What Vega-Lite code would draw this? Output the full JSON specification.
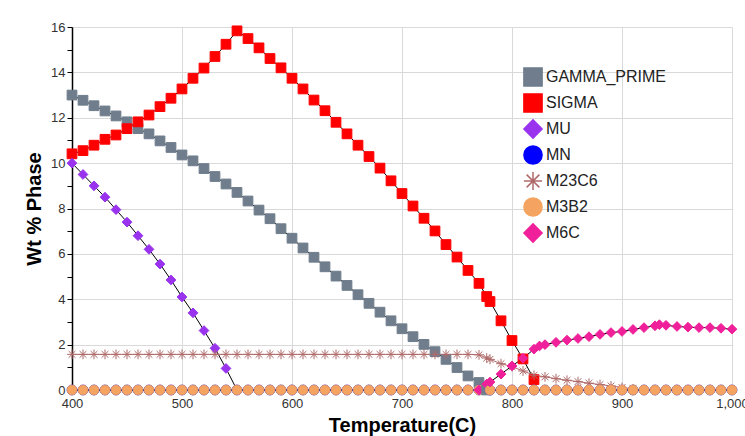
{
  "$schema": "https://vega.github.io/schema/vega-lite/v6.json",
  "width": 660,
  "height": 363,
  "autosize": {"type": "none"},
  "padding": {"left": 72, "top": 27, "right": 13, "bottom": 46},
  "background": "white",
  "config": {
    "font": "Liberation Sans",
    "view": {"stroke": null},
    "legend": {
      "orient": "none",
      "legendX": 451,
      "legendY": 40,
      "title": null,
      "padding": 0,
      "labelFontSize": 16,
      "labelColor": "#222222",
      "labelFont": "Liberation Sans",
      "labelOffset": 3,
      "symbolSize": 330,
      "symbolStrokeWidth": 1.5,
      "rowPadding": 0
    }
  },
  "data": {
    "values": [
      {"T": 400, "GAMMA_PRIME": 13.0, "SIGMA": 10.41, "MU": 10.0, "MN": 0, "M23C6": 1.57, "M3B2": 0},
      {"T": 410, "GAMMA_PRIME": 12.77, "SIGMA": 10.55, "MU": 9.5, "MN": 0, "M23C6": 1.57, "M3B2": 0},
      {"T": 420, "GAMMA_PRIME": 12.53, "SIGMA": 10.79, "MU": 9.0, "MN": 0, "M23C6": 1.57, "M3B2": 0},
      {"T": 430, "GAMMA_PRIME": 12.3, "SIGMA": 11.05, "MU": 8.5, "MN": 0, "M23C6": 1.57, "M3B2": 0},
      {"T": 440, "GAMMA_PRIME": 12.08, "SIGMA": 11.24, "MU": 7.95, "MN": 0, "M23C6": 1.57, "M3B2": 0},
      {"T": 450, "GAMMA_PRIME": 11.82, "SIGMA": 11.52, "MU": 7.4, "MN": 0, "M23C6": 1.57, "M3B2": 0},
      {"T": 460, "GAMMA_PRIME": 11.52, "SIGMA": 11.82, "MU": 6.8, "MN": 0, "M23C6": 1.57, "M3B2": 0},
      {"T": 470, "GAMMA_PRIME": 11.29, "SIGMA": 12.12, "MU": 6.2, "MN": 0, "M23C6": 1.57, "M3B2": 0},
      {"T": 480, "GAMMA_PRIME": 10.98, "SIGMA": 12.49, "MU": 5.55, "MN": 0, "M23C6": 1.57, "M3B2": 0},
      {"T": 490, "GAMMA_PRIME": 10.69, "SIGMA": 12.86, "MU": 4.85, "MN": 0, "M23C6": 1.57, "M3B2": 0},
      {"T": 500, "GAMMA_PRIME": 10.36, "SIGMA": 13.27, "MU": 4.1, "MN": 0, "M23C6": 1.57, "M3B2": 0},
      {"T": 510, "GAMMA_PRIME": 10.1, "SIGMA": 13.74, "MU": 3.4, "MN": 0, "M23C6": 1.57, "M3B2": 0},
      {"T": 520, "GAMMA_PRIME": 9.76, "SIGMA": 14.19, "MU": 2.62, "MN": 0, "M23C6": 1.57, "M3B2": 0},
      {"T": 530, "GAMMA_PRIME": 9.41, "SIGMA": 14.7, "MU": 1.84, "MN": 0, "M23C6": 1.57, "M3B2": 0},
      {"T": 540, "GAMMA_PRIME": 9.08, "SIGMA": 15.24, "MU": 0.95, "MN": 0, "M23C6": 1.57, "M3B2": 0},
      {"T": 550, "GAMMA_PRIME": 8.71, "SIGMA": 15.83, "MU": 0, "MN": 0, "M23C6": 1.57, "M3B2": 0},
      {"T": 560, "GAMMA_PRIME": 8.33, "SIGMA": 15.49, "MU": 0, "MN": 0, "M23C6": 1.57, "M3B2": 0},
      {"T": 570, "GAMMA_PRIME": 7.93, "SIGMA": 15.08, "MU": 0, "MN": 0, "M23C6": 1.57, "M3B2": 0},
      {"T": 580, "GAMMA_PRIME": 7.55, "SIGMA": 14.61, "MU": 0, "MN": 0, "M23C6": 1.57, "M3B2": 0},
      {"T": 590, "GAMMA_PRIME": 7.11, "SIGMA": 14.2, "MU": 0, "MN": 0, "M23C6": 1.57, "M3B2": 0},
      {"T": 600, "GAMMA_PRIME": 6.69, "SIGMA": 13.74, "MU": 0, "MN": 0, "M23C6": 1.57, "M3B2": 0},
      {"T": 610, "GAMMA_PRIME": 6.26, "SIGMA": 13.27, "MU": 0, "MN": 0, "M23C6": 1.57, "M3B2": 0},
      {"T": 620, "GAMMA_PRIME": 5.85, "SIGMA": 12.78, "MU": 0, "MN": 0, "M23C6": 1.57, "M3B2": 0},
      {"T": 630, "GAMMA_PRIME": 5.43, "SIGMA": 12.31, "MU": 0, "MN": 0, "M23C6": 1.57, "M3B2": 0},
      {"T": 640, "GAMMA_PRIME": 5.02, "SIGMA": 11.8, "MU": 0, "MN": 0, "M23C6": 1.57, "M3B2": 0},
      {"T": 650, "GAMMA_PRIME": 4.61, "SIGMA": 11.29, "MU": 0, "MN": 0, "M23C6": 1.57, "M3B2": 0},
      {"T": 660, "GAMMA_PRIME": 4.2, "SIGMA": 10.79, "MU": 0, "MN": 0, "M23C6": 1.57, "M3B2": 0},
      {"T": 670, "GAMMA_PRIME": 3.82, "SIGMA": 10.29, "MU": 0, "MN": 0, "M23C6": 1.57, "M3B2": 0},
      {"T": 680, "GAMMA_PRIME": 3.43, "SIGMA": 9.78, "MU": 0, "MN": 0, "M23C6": 1.57, "M3B2": 0},
      {"T": 690, "GAMMA_PRIME": 3.05, "SIGMA": 9.22, "MU": 0, "MN": 0, "M23C6": 1.57, "M3B2": 0},
      {"T": 700, "GAMMA_PRIME": 2.7, "SIGMA": 8.66, "MU": 0, "MN": 0, "M23C6": 1.57, "M3B2": 0},
      {"T": 710, "GAMMA_PRIME": 2.35, "SIGMA": 8.11, "MU": 0, "MN": 0, "M23C6": 1.57, "M3B2": 0},
      {"T": 720, "GAMMA_PRIME": 2.01, "SIGMA": 7.57, "MU": 0, "MN": 0, "M23C6": 1.57, "M3B2": 0},
      {"T": 730, "GAMMA_PRIME": 1.69, "SIGMA": 7.01, "MU": 0, "MN": 0, "M23C6": 1.57, "M3B2": 0},
      {"T": 740, "GAMMA_PRIME": 1.35, "SIGMA": 6.41, "MU": 0, "MN": 0, "M23C6": 1.57, "M3B2": 0},
      {"T": 750, "GAMMA_PRIME": 0.99, "SIGMA": 5.86, "MU": 0, "MN": 0, "M23C6": 1.57, "M3B2": 0},
      {"T": 760, "GAMMA_PRIME": 0.62, "SIGMA": 5.27, "MU": 0, "MN": 0, "M23C6": 1.57, "M3B2": 0},
      {"T": 770, "GAMMA_PRIME": 0.33, "SIGMA": 4.7, "MU": 0, "MN": 0, "M23C6": 1.55, "M3B2": 0, "M6C": 0},
      {"T": 777, "GAMMA_PRIME": 0, "SIGMA": 4.12, "M23C6": 1.41, "M6C": 0.26},
      {"T": 780, "SIGMA": 3.9, "MU": 0, "MN": 0, "M23C6": 1.35, "M3B2": 0, "M6C": 0.35},
      {"T": 790, "SIGMA": 3.05, "MU": 0, "MN": 0, "M23C6": 1.16, "M3B2": 0, "M6C": 0.7},
      {"T": 800, "SIGMA": 2.18, "MU": 0, "MN": 0, "M23C6": 1.03, "M3B2": 0, "M6C": 1.06},
      {"T": 810, "SIGMA": 1.37, "MU": 0, "MN": 0, "M23C6": 0.84, "M3B2": 0, "M6C": 1.4},
      {"T": 820, "SIGMA": 0.46, "MU": 0, "MN": 0, "M23C6": 0.65, "M3B2": 0, "M6C": 1.8},
      {"T": 825, "M6C": 1.94},
      {"T": 830, "MU": 0, "MN": 0, "M23C6": 0.58, "M3B2": 0, "M6C": 2.0},
      {"T": 840, "MU": 0, "MN": 0, "M23C6": 0.5, "M3B2": 0, "M6C": 2.1},
      {"T": 850, "MU": 0, "MN": 0, "M23C6": 0.43, "M3B2": 0, "M6C": 2.2},
      {"T": 860, "MU": 0, "MN": 0, "M23C6": 0.37, "M3B2": 0, "M6C": 2.27},
      {"T": 870, "MU": 0, "MN": 0, "M23C6": 0.3, "M3B2": 0, "M6C": 2.35},
      {"T": 880, "MU": 0, "MN": 0, "M23C6": 0.24, "M3B2": 0, "M6C": 2.45},
      {"T": 890, "MU": 0, "MN": 0, "M23C6": 0.18, "M3B2": 0, "M6C": 2.53},
      {"T": 900, "MU": 0, "MN": 0, "M23C6": 0.11, "M3B2": 0, "M6C": 2.58},
      {"T": 910, "MU": 0, "MN": 0, "M23C6": 0.05, "M3B2": 0, "M6C": 2.67},
      {"T": 920, "MU": 0, "MN": 0, "M23C6": 0, "M3B2": 0, "M6C": 2.75},
      {"T": 930, "MU": 0, "MN": 0, "M23C6": 0, "M3B2": 0, "M6C": 2.83},
      {"T": 934, "M6C": 2.88},
      {"T": 940, "MU": 0, "MN": 0, "M23C6": 0, "M3B2": 0, "M6C": 2.85},
      {"T": 950, "MU": 0, "MN": 0, "M23C6": 0, "M3B2": 0, "M6C": 2.8},
      {"T": 960, "MU": 0, "MN": 0, "M23C6": 0, "M3B2": 0, "M6C": 2.77},
      {"T": 970, "MU": 0, "MN": 0, "M23C6": 0, "M3B2": 0, "M6C": 2.75},
      {"T": 980, "MU": 0, "MN": 0, "M23C6": 0, "M3B2": 0, "M6C": 2.75},
      {"T": 990, "MU": 0, "MN": 0, "M23C6": 0, "M3B2": 0, "M6C": 2.72},
      {"T": 1000, "MU": 0, "MN": 0, "M23C6": 0, "M3B2": 0, "M6C": 2.68}
    ]
  },
  "transform": [
    {"fold": ["GAMMA_PRIME", "SIGMA", "MU", "MN", "M23C6", "M3B2", "M6C"], "as": ["phase", "v"]},
    {"filter": {"field": "v", "valid": true}}
  ],
  "encoding": {
    "x": {
      "field": "T",
      "type": "quantitative",
      "scale": {"domain": [400, 1000], "nice": false, "zero": false},
      "axis": {
        "values": [400, 500, 600, 700, 800, 900, 1000],
        "title": "Temperature(C)",
        "titleFontSize": 20,
        "titleFontWeight": "bold",
        "titleColor": "#000000",
        "titlePadding": 5,
        "labelFontSize": 13,
        "labelColor": "#333333",
        "labelPadding": 7,
        "labelFlush": false,
        "ticks": false,
        "domain": true,
        "domainColor": "#000000",
        "grid": true,
        "gridColor": "#d9d9d9"
      }
    },
    "y": {
      "field": "v",
      "type": "quantitative",
      "scale": {"domain": [0, 16], "nice": false},
      "axis": {
        "values": [0, 1, 2, 3, 4, 5, 6, 7, 8, 9, 10, 11, 12, 13, 14, 15, 16],
        "labelExpr": "datum.value % 2 === 0 ? datum.label : ''",
        "title": "Wt % Phase",
        "titleFontSize": 20,
        "titleFontWeight": "bold",
        "titleColor": "#000000",
        "titlePadding": 6,
        "labelFontSize": 13,
        "labelColor": "#333333",
        "labelPadding": 2,
        "ticks": true,
        "tickSize": 5,
        "tickColor": "#000000",
        "domain": true,
        "domainColor": "#000000",
        "domainWidth": 1.5,
        "grid": true,
        "gridColor": {"condition": {"test": "datum.value % 2 !== 0", "value": "transparent"}, "value": "#d9d9d9"}
      }
    }
  },
  "layer": [
    {
      "mark": {"type": "line", "strokeWidth": 1},
      "encoding": {
        "detail": {"field": "phase", "type": "nominal"},
        "color": {"condition": {"test": "datum.phase === 'M23C6'", "value": "#b06a6a"}, "value": "#000000"}
      }
    },
    {
      "mark": {"type": "point", "filled": true, "size": 95, "strokeWidth": 1, "opacity": 1},
      "encoding": {
        "color": {
          "field": "phase",
          "type": "nominal",
          "scale": {
            "domain": ["GAMMA_PRIME", "SIGMA", "MU", "MN", "M23C6", "M3B2", "M6C"],
            "range": ["#6f7d8c", "#ff0000", "#9933ee", "#0000ff", "#b06a6a", "#f4a460", "#f0209a"]
          }
        },
        "stroke": {
          "field": "phase",
          "type": "nominal",
          "scale": {
            "domain": ["GAMMA_PRIME", "SIGMA", "MU", "MN", "M23C6", "M3B2", "M6C"],
            "range": ["#6f7d8c", "#ff0000", "#9933ee", "#0000ff", "#b06a6a", "#f4a460", "#f0209a"]
          }
        },
        "shape": {
          "field": "phase",
          "type": "nominal",
          "scale": {
            "domain": ["GAMMA_PRIME", "SIGMA", "MU", "MN", "M23C6", "M3B2", "M6C"],
            "range": ["square", "square", "diamond", "circle", "M-1,0L1,0M0,-1L0,1M-0.7,-0.7L0.7,0.7M-0.7,0.7L0.7,-0.7", "circle", "diamond"]
          }
        }
      }
    }
  ]
}
